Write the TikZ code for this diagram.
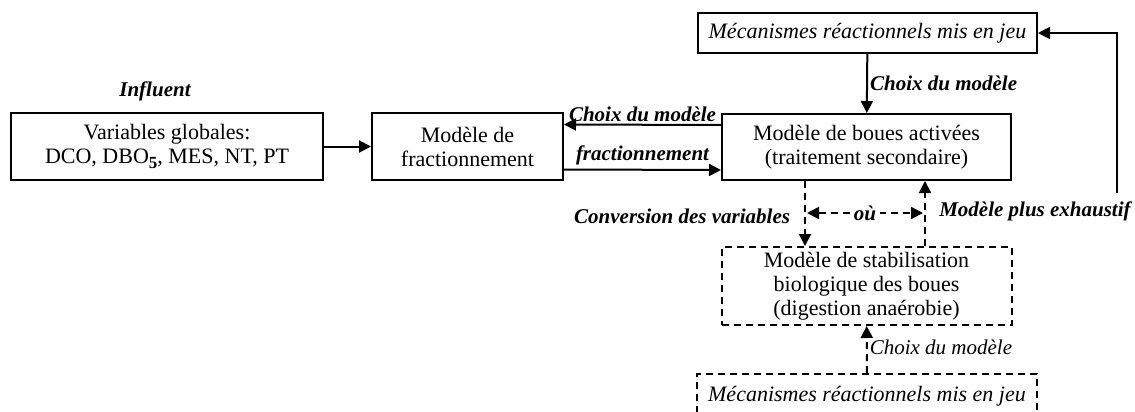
\documentclass[tikz,border=0pt]{standalone}
\usepackage{fontspec}
\setmainfont{Liberation Serif}
\usetikzlibrary{arrows.meta}

\begin{document}
\begin{tikzpicture}[x=0.5pt, y=-0.5pt,
    every node/.style={font=\fontsize{11}{12}\selectfont},
    box/.style={draw, line width=1pt, align=center, inner sep=0pt},
    dbox/.style={box, dashed, dash pattern=on 3.5pt off 2.5pt},
    lbl/.style={font=\fontsize{10.5}{12}\selectfont\bfseries\itshape, inner sep=1pt},
    arr/.style={line width=1pt, -{Triangle[length=6pt,width=6pt]}},
    darr/.style={arr, dash pattern=on 3.5pt off 2.5pt}]
  \useasboundingbox (0,0) rectangle (1135,412);

  \node[box, minimum width=156pt, minimum height=33.5pt] (glob) at (167,146.5) {Variables globales:\\DCO, DBO\raisebox{-0.45ex}{\fontsize{8.5}{9}\selectfont\bfseries 5}, MES, NT, PT};
  \node[box, minimum width=95.5pt, minimum height=33.5pt] (frac) at (467.5,146.5) {Modèle de\\fractionnement};
  \node[box, minimum width=144.5pt, minimum height=33pt] (boue) at (866.5,147) {Modèle de boues activées\\(traitement secondaire)};
  \node[box, minimum width=169.5pt, minimum height=20pt] (meca) at (867.5,33) {\itshape Mécanismes réactionnels mis en jeu};
  \node[dbox, minimum width=145pt, minimum height=39pt] (stab) at (866.5,286) {Modèle de stabilisation\\biologique des boues\\(digestion anaérobie)};
  \node[dbox, minimum width=170pt, minimum height=22pt] (meca2) at (867,396) {\itshape Mécanismes réactionnels mis en jeu};

  \node[lbl] (infl) at (155,91) {Influent};

  \draw[arr] (glob) -- (frac);
  \draw[arr] ([yshift=11pt]boue.west) -- node[lbl, above] {Choix du modèle} ([yshift=11pt]frac.east);
  \draw[arr] ([yshift=-11.5pt]frac.east) -- node[lbl, above, yshift=1pt] {fractionnement} ([yshift=-11.5pt]boue.west);
  \draw[arr] (meca) -- node[lbl, right] {Choix du modèle} (boue);

  % liaison pointillee avec la digestion
  \draw[darr] ([xshift=-30.75pt]boue.south) -- ([xshift=-30.75pt]boue.south |- stab.north)
    node[lbl, pos=0.55, left=6pt] {Conversion des variables};
  \draw[darr] ([xshift=29.25pt]boue.south |- stab.north) -- ([xshift=29.25pt]boue.south);
  \coordinate (ouG) at (807,213);
  \coordinate (ouD) at (923,213);
  \draw[darr, {Triangle[length=6pt,width=6pt]}-{Triangle[length=6pt,width=6pt]}] (ouG) -- node[lbl, fill=white, inner sep=2pt] {où} (ouD);
  \draw[darr] (meca2) -- node[right, pos=0.55, inner sep=1pt, font=\fontsize{10.5}{12}\selectfont\itshape] {Choix du modèle} (stab);

  % retour vers les mecanismes
  \node[lbl, anchor=east] (exh) at (1133,211) {Modèle plus exhaustif};
  \coordinate (ret) at (1117,193);
  \draw[arr] (ret) |- (meca.east);
\end{tikzpicture}
\end{document}
